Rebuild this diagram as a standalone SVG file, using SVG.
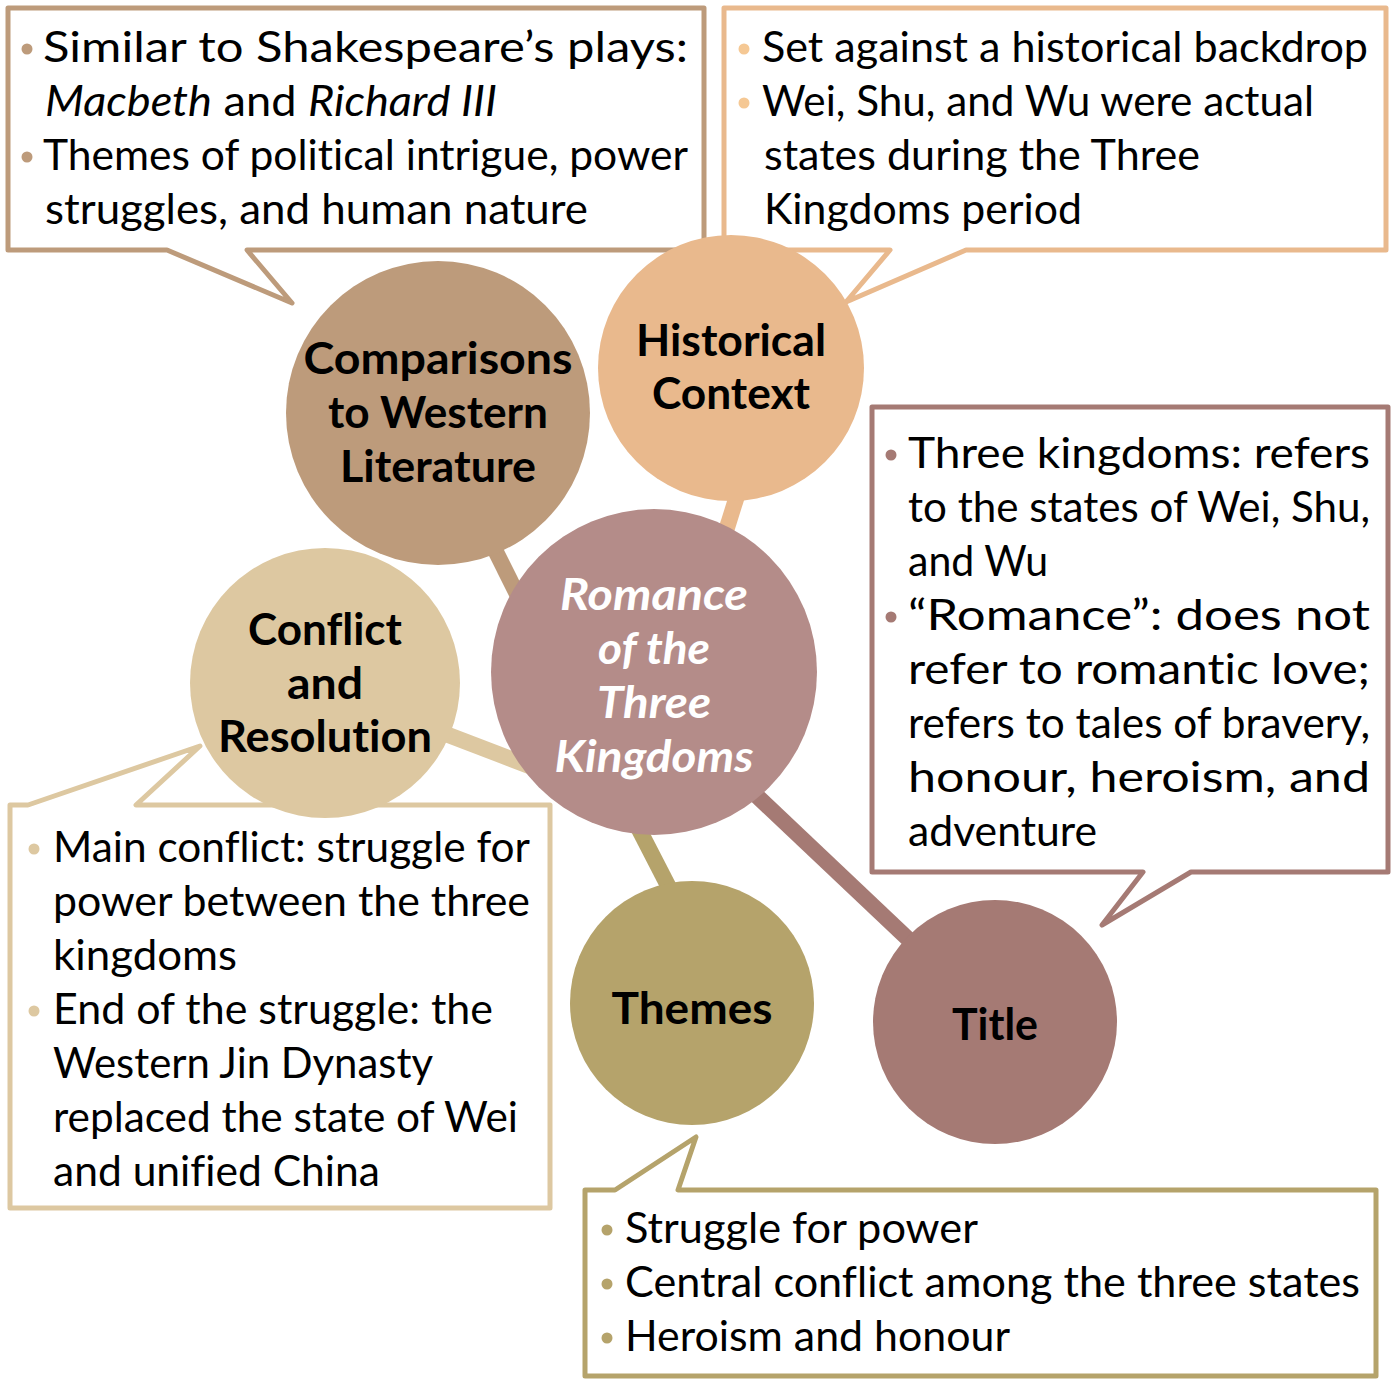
<svg xmlns="http://www.w3.org/2000/svg" width="1395" height="1383" viewBox="0 0 1395 1383">
<style>
.box{fill:#fff;stroke-width:5;stroke-linejoin:round}
.t{font-family:"Lato","Noto Sans",sans-serif;font-size:42px;fill:#000;font-variant-ligatures:none}
.lbl{font-family:"Lato","Noto Sans",sans-serif;font-size:44px;font-weight:bold;fill:#000;text-anchor:middle;font-variant-ligatures:none}
.ctr{font-family:"Lato","Noto Sans",sans-serif;font-size:44px;font-weight:bold;font-style:italic;fill:#fff;text-anchor:middle}
.conn{stroke-width:16;fill:none}
</style>
<rect width="1395" height="1383" fill="#fff"/>

<g id="callout-comparisons">
<path class="box" stroke="#BD9B7B" d="M8 8 H704 V250 H247 L292 303 L167 250 H8 Z"/>
<circle cx="27" cy="49" r="5.5" fill="#BD9B7B"/>
<circle cx="27" cy="157" r="5.5" fill="#BD9B7B"/>
<text class="t" x="43" y="62" textLength="645" lengthAdjust="spacingAndGlyphs">Similar to Shakespeare’s plays:</text>
<text class="t" x="45" y="116" textLength="452" lengthAdjust="spacingAndGlyphs"><tspan font-style="italic">Macbeth</tspan> and <tspan font-style="italic">Richard III</tspan></text>
<text class="t" x="43" y="170" textLength="645" lengthAdjust="spacingAndGlyphs">Themes of political intrigue, power</text>
<text class="t" x="45" y="224" textLength="543" lengthAdjust="spacingAndGlyphs">struggles, and human nature</text>
</g>

<g id="callout-historical">
<path class="box" stroke="#E9B98D" d="M724 8 H1386 V250 H966 L846 302 L890 250 H724 Z"/>
<circle cx="744" cy="49" r="5.5" fill="#F5C894"/>
<circle cx="744" cy="103" r="5.5" fill="#F5C894"/>
<text class="t" x="762" y="62" textLength="606" lengthAdjust="spacingAndGlyphs">Set against a historical backdrop</text>
<text class="t" x="762" y="116" textLength="552" lengthAdjust="spacingAndGlyphs">Wei, Shu, and Wu were actual</text>
<text class="t" x="764" y="170" textLength="436" lengthAdjust="spacingAndGlyphs">states during the Three</text>
<text class="t" x="764" y="224" textLength="318" lengthAdjust="spacingAndGlyphs">Kingdoms period</text>
</g>

<g id="callout-title">
<path class="box" stroke="#A57A74" d="M872 407 H1388 V872 H1191 L1102 925 L1143 872 H872 Z"/>
<circle cx="891" cy="455" r="5.5" fill="#A57A74"/>
<circle cx="891" cy="617" r="5.5" fill="#A57A74"/>
<text class="t" x="908" y="468" textLength="462" lengthAdjust="spacingAndGlyphs">Three kingdoms: refers</text>
<text class="t" x="908" y="522" textLength="462" lengthAdjust="spacingAndGlyphs">to the states of Wei, Shu,</text>
<text class="t" x="908" y="576" textLength="140" lengthAdjust="spacingAndGlyphs">and Wu</text>
<text class="t" x="908" y="630" textLength="462" lengthAdjust="spacingAndGlyphs">“Romance”: does not</text>
<text class="t" x="908" y="684" textLength="462" lengthAdjust="spacingAndGlyphs">refer to romantic love;</text>
<text class="t" x="908" y="738" textLength="462" lengthAdjust="spacingAndGlyphs">refers to tales of bravery,</text>
<text class="t" x="908" y="792" textLength="462" lengthAdjust="spacingAndGlyphs">honour, heroism, and</text>
<text class="t" x="908" y="846" textLength="189" lengthAdjust="spacingAndGlyphs">adventure</text>
</g>

<g id="callout-conflict">
<path class="box" stroke="#DDC8A1" d="M10 805 H28 L200 746 L136 805 H550 V1208 H10 Z"/>
<circle cx="34" cy="849" r="5.5" fill="#DDC8A1"/>
<circle cx="34" cy="1011" r="5.5" fill="#DDC8A1"/>
<text class="t" x="53" y="862" textLength="477" lengthAdjust="spacingAndGlyphs">Main conflict: struggle for</text>
<text class="t" x="53" y="916" textLength="477" lengthAdjust="spacingAndGlyphs">power between the three</text>
<text class="t" x="53" y="970" textLength="184" lengthAdjust="spacingAndGlyphs">kingdoms</text>
<text class="t" x="53" y="1024" textLength="440" lengthAdjust="spacingAndGlyphs">End of the struggle: the</text>
<text class="t" x="53" y="1078" textLength="380" lengthAdjust="spacingAndGlyphs">Western Jin Dynasty</text>
<text class="t" x="53" y="1132" textLength="465" lengthAdjust="spacingAndGlyphs">replaced the state of Wei</text>
<text class="t" x="53" y="1186" textLength="327" lengthAdjust="spacingAndGlyphs">and unified China</text>
</g>

<g id="callout-themes">
<path class="box" stroke="#B5A36B" d="M585 1190 H615 L696 1137 L678 1190 H1376 V1376 H585 Z"/>
<circle cx="607" cy="1230" r="5.5" fill="#B5A36B"/>
<circle cx="607" cy="1284" r="5.5" fill="#B5A36B"/>
<circle cx="607" cy="1338" r="5.5" fill="#B5A36B"/>
<text class="t" x="625" y="1243" textLength="353" lengthAdjust="spacingAndGlyphs">Struggle for power</text>
<text class="t" x="625" y="1297" textLength="735" lengthAdjust="spacingAndGlyphs">Central conflict among the three states</text>
<text class="t" x="625" y="1351" textLength="385" lengthAdjust="spacingAndGlyphs">Heroism and honour</text>
</g>

<g id="connectors">
<line class="conn" stroke="#BD9B7B" x1="480" y1="520" x2="535" y2="630"/>
<line class="conn" stroke="#E9B98D" x1="742" y1="480" x2="720" y2="550"/>
<line class="conn" stroke="#DDC8A1" x1="430" y1="728" x2="545" y2="772"/>
<line class="conn" stroke="#B5A36B" x1="628" y1="808" x2="678" y2="905"/>
<line class="conn" stroke="#A57A74" x1="740" y1="780" x2="925" y2="955"/>
</g>

<g id="node-comparisons">
<circle cx="438" cy="413" r="152" fill="#BD9B7B"/>
<text class="lbl" x="438" y="374" textLength="269" lengthAdjust="spacingAndGlyphs">Comparisons</text>
<text class="lbl" x="438" y="428" textLength="220" lengthAdjust="spacingAndGlyphs">to Western</text>
<text class="lbl" x="438" y="482" textLength="196" lengthAdjust="spacingAndGlyphs">Literature</text>
</g>

<g id="node-historical">
<circle cx="731" cy="368" r="133" fill="#E9B98D"/>
<text class="lbl" x="731" y="356" textLength="190" lengthAdjust="spacingAndGlyphs">Historical</text>
<text class="lbl" x="731" y="409" textLength="158" lengthAdjust="spacingAndGlyphs">Context</text>
</g>

<g id="node-center">
<circle cx="654" cy="672" r="163" fill="#B48C89"/>
<text class="ctr" x="654" y="610" textLength="188" lengthAdjust="spacingAndGlyphs">Romance</text>
<text class="ctr" x="654" y="664" textLength="112" lengthAdjust="spacingAndGlyphs">of the</text>
<text class="ctr" x="654" y="718" textLength="114" lengthAdjust="spacingAndGlyphs">Three</text>
<text class="ctr" x="654" y="772" textLength="199" lengthAdjust="spacingAndGlyphs">Kingdoms</text>
</g>

<g id="node-conflict">
<circle cx="325" cy="683" r="135" fill="#DDC8A1"/>
<text class="lbl" x="325" y="645" textLength="154" lengthAdjust="spacingAndGlyphs">Conflict</text>
<text class="lbl" x="325" y="699" textLength="76" lengthAdjust="spacingAndGlyphs">and</text>
<text class="lbl" x="325" y="752" textLength="214" lengthAdjust="spacingAndGlyphs">Resolution</text>
</g>

<g id="node-themes">
<circle cx="692" cy="1003" r="122" fill="#B5A36B"/>
<text class="lbl" x="692" y="1024" textLength="161" lengthAdjust="spacingAndGlyphs">Themes</text>
</g>

<g id="node-title">
<circle cx="995" cy="1022" r="122" fill="#A57A74"/>
<text class="lbl" x="995" y="1040" textLength="86" lengthAdjust="spacingAndGlyphs">Title</text>
</g>
</svg>
